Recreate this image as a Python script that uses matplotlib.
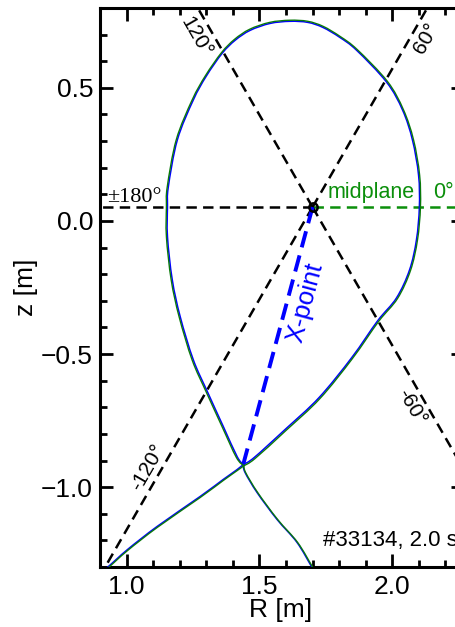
import numpy as np
import matplotlib
matplotlib.use("Agg")
import matplotlib.pyplot as plt
from matplotlib.ticker import MultipleLocator
from matplotlib.path import Path
from matplotlib.patches import PathPatch

plt.rcParams['font.family'] = ['Liberation Sans', 'DejaVu Sans']
plt.rcParams['lines.scale_dashes'] = False

# Magnetic axis and X-point positions [m]
mag_axis = (1.700, 0.052)
x_point = (1.439, -0.915)

# Poloidal angles of the labelled rays from the magnetic axis [deg]
ray_angles = [0, 60, 120, 180, -120, -60]
ray_labels = ["0°", "60°", "120°", "±180°", "-120°", "-60°"]

# Separatrix (closed part), reconstruction 1 (blue)
sep_blue_R = [1.439, 1.480, 1.596, 1.724, 1.847, 1.945, 2.016, 2.065, 2.091,
              2.102, 2.099, 2.076, 2.039, 1.979, 1.866, 1.802, 1.739, 1.682, 1.615,
              1.540, 1.465, 1.409, 1.360, 1.300, 1.251, 1.191, 1.157, 1.154, 1.154,
              1.172, 1.202, 1.251, 1.304, 1.364, 1.416, 1.439]
sep_blue_z = [-0.915, -0.889, -0.784, -0.664, -0.514, -0.375, -0.289, -0.184, -0.071,
              0.052, 0.172, 0.304, 0.416, 0.521, 0.641, 0.690, 0.727, 0.746, 0.750,
              0.742, 0.716, 0.679, 0.630, 0.544, 0.454, 0.304, 0.127, 0.052, -0.060,
              -0.221, -0.360, -0.521, -0.641, -0.772, -0.885, -0.915]

# Divertor legs, reconstruction 1 (blue)
leg_in_blue_R = [1.439, 1.416, 1.364, 1.277, 1.116, 1.004, 0.933, 0.915]
leg_in_blue_z = [-0.915, -0.934, -0.971, -1.035, -1.147, -1.234, -1.297, -1.310]
leg_out_blue_R = [1.439, 1.446, 1.491, 1.566, 1.641, 1.697, 1.703]
leg_out_blue_z = [-0.915, -0.945, -1.020, -1.121, -1.207, -1.300, -1.310]

# Separatrix (closed part), reconstruction 2 (green)
sep_green_R = [1.441, 1.483, 1.599, 1.727, 1.850, 1.949, 2.020, 2.069, 2.095,
               2.106, 2.103, 2.080, 2.042, 1.982, 1.868, 1.804, 1.740, 1.682, 1.615,
               1.539, 1.463, 1.406, 1.357, 1.297, 1.247, 1.187, 1.153, 1.150, 1.150,
               1.168, 1.198, 1.247, 1.300, 1.360, 1.413, 1.441]
sep_green_z = [-0.920, -0.893, -0.788, -0.668, -0.517, -0.377, -0.291, -0.185, -0.071,
               0.052, 0.172, 0.305, 0.418, 0.524, 0.644, 0.693, 0.731, 0.750, 0.754,
               0.746, 0.720, 0.682, 0.632, 0.546, 0.455, 0.305, 0.127, 0.052, -0.060,
               -0.222, -0.361, -0.523, -0.643, -0.774, -0.888, -0.920]

# Divertor legs, reconstruction 2 (green)
leg_in_green_R = [1.441, 1.416, 1.364, 1.277, 1.116, 1.004, 0.933, 0.915]
leg_in_green_z = [-0.920, -0.938, -0.975, -1.039, -1.151, -1.238, -1.301, -1.314]
leg_out_green_R = [1.441, 1.449, 1.494, 1.569, 1.644, 1.700, 1.706]
leg_out_green_z = [-0.920, -0.947, -1.021, -1.122, -1.208, -1.300, -1.310]

BLUE = "#0000ff"
GREEN_LINE = "#0a7a0a"
GREEN = "#0b8f0b"


def smooth_path(R, z):
    """Cubic Bezier path passing through every (R, z) point (Catmull-Rom tangents)."""
    P = np.column_stack([R, z]).astype(float)
    n = len(P)
    verts = [P[0]]
    codes = [Path.MOVETO]
    for i in range(n - 1):
        p0 = P[i - 1] if i > 0 else P[i]
        p1 = P[i]
        p2 = P[i + 1]
        p3 = P[i + 2] if i + 2 < n else P[i + 1]
        verts += [p1 + (p2 - p0) / 6.0, p2 - (p3 - p1) / 6.0, p2]
        codes += [Path.CURVE4] * 3
    return Path(verts, codes)


def draw_curve(ax, R, z, color, lw, zorder):
    ax.add_patch(PathPatch(smooth_path(R, z), fill=False, edgecolor=color, lw=lw,
                           zorder=zorder, capstyle="round", joinstyle="round"))


fig = plt.figure(figsize=(4.56, 6.27), dpi=100)
ax = fig.add_axes([100 / 456, 60 / 627, 364 / 456, 559 / 627])
ax.set_xlim(0.9, 2.27)
ax.set_ylim(-1.3, 0.8)

# Rays from the magnetic axis
for ang in ray_angles:
    a = np.deg2rad(ang)
    end = (mag_axis[0] + 3.0 * np.cos(a), mag_axis[1] + 3.0 * np.sin(a))
    col = GREEN if ang == 0 else "black"
    ax.plot([mag_axis[0], end[0]], [mag_axis[1], end[1]], color=col, lw=1.8,
            dashes=(7.5, 4.5), zorder=2)

# Line towards the X-point
ax.plot([mag_axis[0], x_point[0]], [mag_axis[1], x_point[1]], color=BLUE, lw=2.8,
        dashes=(12, 6), zorder=3)

# Separatrices
for R, z in [(sep_blue_R, sep_blue_z), (leg_in_blue_R, leg_in_blue_z),
             (leg_out_blue_R, leg_out_blue_z)]:
    draw_curve(ax, R, z, BLUE, 1.1, 4)
for R, z in [(sep_green_R, sep_green_z), (leg_in_green_R, leg_in_green_z),
             (leg_out_green_R, leg_out_green_z)]:
    draw_curve(ax, R, z, GREEN_LINE, 1.0, 5)

# Magnetic axis
ax.plot([mag_axis[0]], [mag_axis[1]], marker="o", ms=6, mfc="none", mec="black",
        mew=1.8, zorder=6)

# Angle labels
ax.text(1.262, 0.692, ray_labels[2], rotation=-60, ha="center", va="center",
        rotation_mode="anchor", fontsize=15)
ax.text(2.128, 0.686, ray_labels[1], rotation=60, ha="center", va="center",
        rotation_mode="anchor", fontsize=15)
ax.text(2.072, -0.697, ray_labels[5], rotation=-60, ha="center", va="center",
        rotation_mode="anchor", fontsize=15)
ax.text(1.079, -0.926, ray_labels[4], rotation=60, ha="center", va="center",
        rotation_mode="anchor", fontsize=15)
ax.text(0.925, 0.071, ray_labels[3], ha="left", va="baseline", fontsize=16,
        family="Liberation Serif")
ax.text(1.757, 0.086, "midplane", ha="left", va="baseline", fontsize=15.5, color=GREEN)
ax.text(2.155, 0.086, ray_labels[0], ha="left", va="baseline", fontsize=15.5, color=GREEN)
ax.text(1.673, -0.308, "X-point", rotation=75, ha="center", va="center",
        rotation_mode="anchor", fontsize=18.5, color=BLUE)
ax.text(1.739, -1.222, "#33134, 2.0 s-2.1 s", ha="left", va="baseline", fontsize=16)

# Axes styling
ax.xaxis.set_major_locator(MultipleLocator(0.5))
ax.xaxis.set_minor_locator(MultipleLocator(0.1))
ax.yaxis.set_major_locator(MultipleLocator(0.5))
ax.yaxis.set_minor_locator(MultipleLocator(0.1))
ax.tick_params(which="both", direction="in", top=True, right=True, width=2.0)
ax.tick_params(which="major", length=9.5, labelsize=19)
ax.tick_params(axis="x", which="major", pad=6)
ax.tick_params(axis="y", which="major", pad=5)
ax.tick_params(which="minor", length=5)
for sp in ax.spines.values():
    sp.set_linewidth(2.2)

ax.set_xlabel("R [m]", fontsize=19)
ax.set_ylabel("z [m]", fontsize=19)
ax.xaxis.set_label_coords(0.497, -0.055)
ax.yaxis.set_label_coords(-0.17, 0.5)

fig.savefig("out.png", dpi=100)
